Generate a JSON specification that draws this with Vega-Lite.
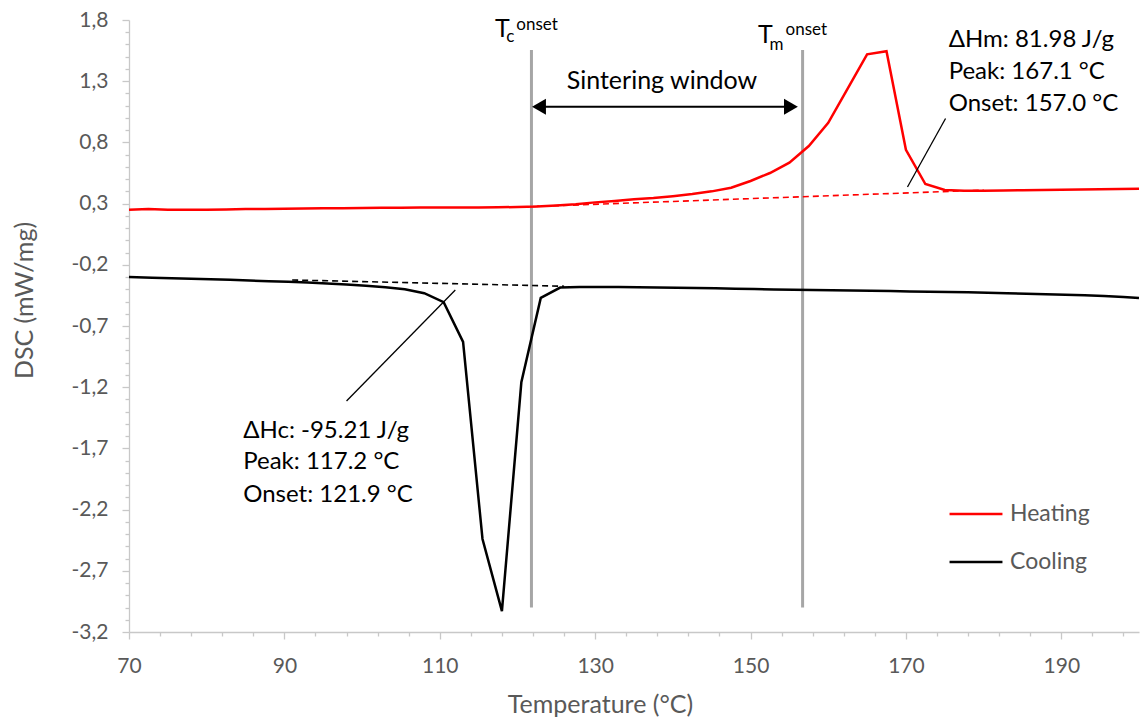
{
  "$schema": "https://vega.github.io/schema/vega-lite/v6.json",
  "width": 1010,
  "height": 612,
  "autosize": {"type": "none"},
  "padding": {"left": 129, "top": 20, "right": 4, "bottom": 85},
  "background": "white",
  "config": {"view": {"stroke": null}, "font": "Lato"},
  "datasets": {
    "curves": [
      {"series": "Heating", "t": 70, "v": 0.25}, {"series": "Heating", "t": 72.5, "v": 0.255}, {"series": "Heating", "t": 75, "v": 0.25},
      {"series": "Heating", "t": 77.5, "v": 0.25}, {"series": "Heating", "t": 80, "v": 0.25}, {"series": "Heating", "t": 82.5, "v": 0.252},
      {"series": "Heating", "t": 85, "v": 0.255}, {"series": "Heating", "t": 87.5, "v": 0.256}, {"series": "Heating", "t": 90, "v": 0.258},
      {"series": "Heating", "t": 92.5, "v": 0.26}, {"series": "Heating", "t": 95, "v": 0.262}, {"series": "Heating", "t": 97.5, "v": 0.263},
      {"series": "Heating", "t": 100, "v": 0.265}, {"series": "Heating", "t": 102.5, "v": 0.266}, {"series": "Heating", "t": 105, "v": 0.267},
      {"series": "Heating", "t": 107.5, "v": 0.268}, {"series": "Heating", "t": 110, "v": 0.268}, {"series": "Heating", "t": 112.5, "v": 0.268},
      {"series": "Heating", "t": 115, "v": 0.269}, {"series": "Heating", "t": 117.5, "v": 0.27}, {"series": "Heating", "t": 120, "v": 0.272},
      {"series": "Heating", "t": 122.5, "v": 0.276}, {"series": "Heating", "t": 125, "v": 0.284}, {"series": "Heating", "t": 127.5, "v": 0.295},
      {"series": "Heating", "t": 130, "v": 0.31}, {"series": "Heating", "t": 132.5, "v": 0.322}, {"series": "Heating", "t": 135, "v": 0.335},
      {"series": "Heating", "t": 137.5, "v": 0.345}, {"series": "Heating", "t": 140, "v": 0.36}, {"series": "Heating", "t": 142.5, "v": 0.378},
      {"series": "Heating", "t": 145, "v": 0.4}, {"series": "Heating", "t": 147.5, "v": 0.43}, {"series": "Heating", "t": 150, "v": 0.485},
      {"series": "Heating", "t": 152.5, "v": 0.55}, {"series": "Heating", "t": 155, "v": 0.635}, {"series": "Heating", "t": 157.5, "v": 0.77},
      {"series": "Heating", "t": 160, "v": 0.96}, {"series": "Heating", "t": 162.5, "v": 1.24}, {"series": "Heating", "t": 165, "v": 1.52},
      {"series": "Heating", "t": 167.5, "v": 1.545}, {"series": "Heating", "t": 170, "v": 0.74}, {"series": "Heating", "t": 172.5, "v": 0.46},
      {"series": "Heating", "t": 175, "v": 0.412}, {"series": "Heating", "t": 177.5, "v": 0.405}, {"series": "Heating", "t": 180, "v": 0.405},
      {"series": "Heating", "t": 182.5, "v": 0.407}, {"series": "Heating", "t": 185, "v": 0.41}, {"series": "Heating", "t": 187.5, "v": 0.412},
      {"series": "Heating", "t": 190, "v": 0.414}, {"series": "Heating", "t": 192.5, "v": 0.416}, {"series": "Heating", "t": 195, "v": 0.418},
      {"series": "Heating", "t": 197.5, "v": 0.42}, {"series": "Heating", "t": 200, "v": 0.422},
      {"series": "Cooling", "t": 70, "v": -0.3}, {"series": "Cooling", "t": 73, "v": -0.305}, {"series": "Cooling", "t": 75.5, "v": -0.309},
      {"series": "Cooling", "t": 78, "v": -0.313}, {"series": "Cooling", "t": 80.5, "v": -0.318}, {"series": "Cooling", "t": 83, "v": -0.323},
      {"series": "Cooling", "t": 85.5, "v": -0.329}, {"series": "Cooling", "t": 88, "v": -0.334}, {"series": "Cooling", "t": 90.5, "v": -0.339},
      {"series": "Cooling", "t": 93, "v": -0.345}, {"series": "Cooling", "t": 95.5, "v": -0.352}, {"series": "Cooling", "t": 98, "v": -0.361},
      {"series": "Cooling", "t": 100.5, "v": -0.371}, {"series": "Cooling", "t": 103, "v": -0.383}, {"series": "Cooling", "t": 105.5, "v": -0.4},
      {"series": "Cooling", "t": 108, "v": -0.432}, {"series": "Cooling", "t": 110.5, "v": -0.505}, {"series": "Cooling", "t": 113, "v": -0.83},
      {"series": "Cooling", "t": 115.5, "v": -2.44}, {"series": "Cooling", "t": 118, "v": -3.03}, {"series": "Cooling", "t": 120.5, "v": -1.16},
      {"series": "Cooling", "t": 123, "v": -0.47}, {"series": "Cooling", "t": 125.5, "v": -0.386}, {"series": "Cooling", "t": 128, "v": -0.382},
      {"series": "Cooling", "t": 130.5, "v": -0.381}, {"series": "Cooling", "t": 133, "v": -0.382}, {"series": "Cooling", "t": 135.5, "v": -0.383},
      {"series": "Cooling", "t": 138, "v": -0.385}, {"series": "Cooling", "t": 140.5, "v": -0.387}, {"series": "Cooling", "t": 143, "v": -0.389},
      {"series": "Cooling", "t": 145.5, "v": -0.392}, {"series": "Cooling", "t": 148, "v": -0.395}, {"series": "Cooling", "t": 150.5, "v": -0.398},
      {"series": "Cooling", "t": 153, "v": -0.401}, {"series": "Cooling", "t": 155.5, "v": -0.404}, {"series": "Cooling", "t": 158, "v": -0.406},
      {"series": "Cooling", "t": 160.5, "v": -0.408}, {"series": "Cooling", "t": 163, "v": -0.41}, {"series": "Cooling", "t": 165.5, "v": -0.413},
      {"series": "Cooling", "t": 168, "v": -0.415}, {"series": "Cooling", "t": 170.5, "v": -0.418}, {"series": "Cooling", "t": 173, "v": -0.42},
      {"series": "Cooling", "t": 175.5, "v": -0.423}, {"series": "Cooling", "t": 178, "v": -0.425}, {"series": "Cooling", "t": 180.5, "v": -0.428},
      {"series": "Cooling", "t": 183, "v": -0.432}, {"series": "Cooling", "t": 185.5, "v": -0.436}, {"series": "Cooling", "t": 188, "v": -0.44},
      {"series": "Cooling", "t": 190.5, "v": -0.444}, {"series": "Cooling", "t": 193, "v": -0.449}, {"series": "Cooling", "t": 195.5, "v": -0.455},
      {"series": "Cooling", "t": 198, "v": -0.463}, {"series": "Cooling", "t": 200, "v": -0.472}
    ],
    "baselines": [
      {"series": "Heating", "t": 122, "v": 0.276}, {"series": "Heating", "t": 180, "v": 0.41},
      {"series": "Cooling", "t": 91, "v": -0.324}, {"series": "Cooling", "t": 126, "v": -0.375}
    ],
    "onsets": [
      {"name": "Tc onset", "t": 121.8, "top": 1.555, "bottom": -3.0},
      {"name": "Tm onset", "t": 156.7, "top": 1.555, "bottom": -3.0}
    ],
    "leaders": [
      {"t1": 98.0, "v1": -1.313, "t2": 112.0, "v2": -0.406},
      {"t1": 170.2, "v1": 0.436, "t2": 175.1, "v2": 0.995}
    ],
    "window": [{"from": 122.5, "to": 155.5, "v": 1.092}],
    "heads": [
      {"t": 122.77, "v": 1.092, "dir": "triangle-left"},
      {"t": 155.2, "v": 1.092, "dir": "triangle-right"}
    ],
    "notes": [
      {"t": 175.5, "v": 1.579, "text": "ΔHm: 81.98 J/g"},
      {"t": 175.5, "v": 1.318, "text": "Peak: 167.1 °C"},
      {"t": 175.5, "v": 1.057, "text": "Onset: 157.0 °C"},
      {"t": 84.7, "v": -1.613, "text": "ΔHc: -95.21 J/g"},
      {"t": 84.7, "v": -1.871, "text": "Peak: 117.2 °C"},
      {"t": 84.7, "v": -2.135, "text": "Onset: 121.9 °C"}
    ],
    "windowLabel": [{"t": 138.6, "v": 1.234, "text": "Sintering window"}],
    "bigT": [{"t": 117.1, "v": 1.661, "text": "T"}, {"t": 150.95, "v": 1.612, "text": "T"}],
    "subs": [{"t": 118.55, "v": 1.62, "text": "c"}, {"t": 152.45, "v": 1.555, "text": "m"}],
    "sups": [{"t": 119.85, "v": 1.718, "text": "onset"}, {"t": 154.5, "v": 1.677, "text": "onset"}]
  },
  "layer": [
    {
      "data": {"name": "onsets"},
      "mark": {"type": "rule", "color": "#A6A6A6", "strokeWidth": 3},
      "encoding": {
        "x": {
          "field": "t", "type": "quantitative",
          "scale": {"domain": [70, 200], "nice": false, "zero": false},
          "axis": {
            "values": [70, 74, 78, 82, 86, 90, 94, 98, 102, 106, 110, 114, 118, 122, 126, 130, 134, 138, 142, 146, 150, 154, 158, 162, 166, 170, 174, 178, 182, 186, 190, 194, 198],
            "tickCount": 200,
            "labelExpr": "(datum.value - 70) % 20 == 0 ? format(datum.value, 'd') : ''",
            "labelOverlap": false,
            "labelBound": false,
            "labelFlush": false,
            "labelFont": "Lato",
            "labelFontSize": 21,
            "labelColor": "#595959",
            "labelPadding": 16,
            "tickSize": {"condition": {"test": "(datum.value - 70) % 20 == 0", "value": 7}, "value": 4},
            "tickColor": "#C8C8C8",
            "tickWidth": 1.3,
            "domainColor": "#C8C8C8",
            "domainWidth": 1.3,
            "grid": false,
            "title": "Temperature (°C)",
            "titleFont": "Lato",
            "titleFontSize": 25,
            "titleFontWeight": "normal",
            "titleColor": "#595959",
            "titleX": 471,
            "titleY": 80,
            "titleBaseline": "alphabetic",
            "titleAnchor": "middle"
          }
        },
        "y": {
          "field": "top", "type": "quantitative",
          "scale": {"domain": [-3.2, 1.8], "nice": false, "zero": false},
          "axis": {
            "values": [-3.2, -3.1, -3.0, -2.9, -2.8, -2.7, -2.6, -2.5, -2.4, -2.3, -2.2, -2.1, -2.0, -1.9, -1.8, -1.7, -1.6, -1.5, -1.4, -1.3, -1.2, -1.1, -1.0, -0.9, -0.8, -0.7, -0.6, -0.5, -0.4, -0.3, -0.2, -0.1, 0, 0.1, 0.2, 0.3, 0.4, 0.5, 0.6, 0.7, 0.8, 0.9, 1.0, 1.1, 1.2, 1.3, 1.4, 1.5, 1.6, 1.7, 1.8],
            "tickCount": 200,
            "labelExpr": "(round(datum.value * 10) + 50) % 5 == 3 ? (datum.value < 0 ? '-' : '') + replace(format(abs(datum.value), '.1f'), '.', ',') : ''",
            "labelOverlap": false,
            "labelBound": false,
            "labelFlush": false,
            "labelFont": "Lato",
            "labelFontSize": 21,
            "labelColor": "#595959",
            "labelPadding": 14,
            "tickSize": {"condition": {"test": "(round(datum.value * 10) + 50) % 5 == 3", "value": 7}, "value": 4},
            "tickColor": "#C8C8C8",
            "tickWidth": 1.3,
            "domainColor": "#C8C8C8",
            "domainWidth": 1.3,
            "grid": false,
            "title": "DSC (mW/mg)",
            "titleFont": "Lato",
            "titleFontSize": 25,
            "titleFontWeight": "normal",
            "titleColor": "#595959",
            "titleX": -97,
            "titleY": 280,
            "titleBaseline": "alphabetic",
            "titleAnchor": "middle"
          }
        },
        "y2": {"field": "bottom"}
      }
    },
    {
      "data": {"name": "curves"},
      "mark": {"type": "line", "strokeWidth": 2.5},
      "encoding": {
        "x": {"field": "t", "type": "quantitative"},
        "y": {"field": "v", "type": "quantitative"},
        "color": {
          "field": "series", "type": "nominal",
          "scale": {"domain": ["Heating", "Cooling"], "range": ["#FF0000", "#000000"]},
          "legend": {
            "orient": "none",
            "legendX": 819,
            "legendY": 466,
            "title": null,
            "symbolType": "stroke",
            "symbolSize": 2800,
            "symbolStrokeWidth": 2.5,
            "labelFont": "Lato",
            "labelFontSize": 23,
            "labelColor": "#595959",
            "labelOffset": 6,
            "rowPadding": 8,
            "padding": 0
          }
        }
      }
    },
    {
      "data": {"name": "baselines"},
      "mark": {"type": "line", "strokeWidth": 1.6, "strokeDash": [6, 4]},
      "encoding": {
        "x": {"field": "t", "type": "quantitative"},
        "y": {"field": "v", "type": "quantitative"},
        "color": {"field": "series", "type": "nominal"}
      }
    },
    {
      "data": {"name": "leaders"},
      "mark": {"type": "rule", "color": "#000000", "strokeWidth": 1.3},
      "encoding": {
        "x": {"field": "t1", "type": "quantitative"},
        "y": {"field": "v1", "type": "quantitative"},
        "x2": {"field": "t2"},
        "y2": {"field": "v2"}
      }
    },
    {
      "data": {"name": "window"},
      "mark": {"type": "rule", "color": "#000000", "strokeWidth": 2},
      "encoding": {
        "x": {"field": "from", "type": "quantitative"},
        "x2": {"field": "to"},
        "y": {"field": "v", "type": "quantitative"}
      }
    },
    {
      "data": {"name": "heads"},
      "mark": {"type": "point", "filled": true, "color": "#000000", "size": 256, "opacity": 1},
      "encoding": {
        "x": {"field": "t", "type": "quantitative"},
        "y": {"field": "v", "type": "quantitative"},
        "shape": {"field": "dir", "type": "nominal", "scale": null}
      }
    },
    {
      "data": {"name": "notes"},
      "mark": {"type": "text", "align": "left", "baseline": "alphabetic", "font": "Lato", "fontSize": 24, "color": "#000000"},
      "encoding": {
        "x": {"field": "t", "type": "quantitative"},
        "y": {"field": "v", "type": "quantitative"},
        "text": {"field": "text"}
      }
    },
    {
      "data": {"name": "windowLabel"},
      "mark": {"type": "text", "align": "center", "baseline": "alphabetic", "font": "Lato", "fontSize": 25, "color": "#000000"},
      "encoding": {
        "x": {"field": "t", "type": "quantitative"},
        "y": {"field": "v", "type": "quantitative"},
        "text": {"field": "text"}
      }
    },
    {
      "data": {"name": "bigT"},
      "mark": {"type": "text", "align": "left", "baseline": "alphabetic", "font": "Lato", "fontSize": 25, "color": "#000000"},
      "encoding": {
        "x": {"field": "t", "type": "quantitative"},
        "y": {"field": "v", "type": "quantitative"},
        "text": {"field": "text"}
      }
    },
    {
      "data": {"name": "subs"},
      "mark": {"type": "text", "align": "left", "baseline": "alphabetic", "font": "Lato", "fontSize": 17, "color": "#000000"},
      "encoding": {
        "x": {"field": "t", "type": "quantitative"},
        "y": {"field": "v", "type": "quantitative"},
        "text": {"field": "text"}
      }
    },
    {
      "data": {"name": "sups"},
      "mark": {"type": "text", "align": "left", "baseline": "alphabetic", "font": "Lato", "fontSize": 17, "color": "#000000"},
      "encoding": {
        "x": {"field": "t", "type": "quantitative"},
        "y": {"field": "v", "type": "quantitative"},
        "text": {"field": "text"}
      }
    }
  ]
}
